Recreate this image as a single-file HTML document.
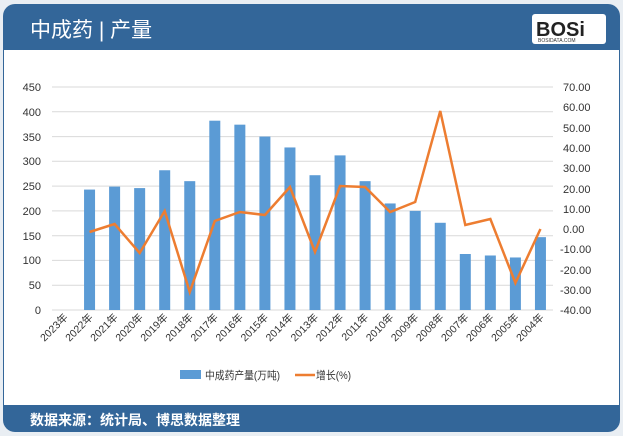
<!DOCTYPE html>
<html><head><meta charset="utf-8"><style>
html,body{margin:0;padding:0;background:#fff;}
body{width:623px;height:436px;overflow:hidden;font-family:"Liberation Sans","Noto Sans CJK SC",sans-serif;}
</style></head><body>
<svg width="623" height="436" xmlns="http://www.w3.org/2000/svg" font-family="Liberation Sans, Noto Sans CJK SC, sans-serif">
<rect x="0" y="0" width="623" height="436" fill="#e9eef3"/>
<rect x="3" y="4" width="617" height="428" rx="12" fill="#336699"/>
<rect x="4" y="50" width="615" height="355" fill="#fff"/>
<text x="30" y="37" font-size="21" fill="#fff">中成药 | 产量</text>
<rect x="532" y="14" width="74" height="30" rx="3" fill="#fff"/>
<text x="536" y="36" font-size="20" font-weight="bold" fill="#222">BOSi</text>
<text x="538" y="42" font-size="5" fill="#333">BOSIDATA.COM</text>
<text x="30" y="425" font-size="14" font-weight="bold" fill="#fff">数据来源：统计局、博思数据整理</text>
<g stroke="#d9d9d9" stroke-width="1">
<line x1="52" y1="87" x2="553" y2="87"/><line x1="52" y1="111.8" x2="553" y2="111.8"/>
<line x1="52" y1="136.6" x2="553" y2="136.6"/><line x1="52" y1="161.3" x2="553" y2="161.3"/>
<line x1="52" y1="186.1" x2="553" y2="186.1"/><line x1="52" y1="210.9" x2="553" y2="210.9"/>
<line x1="52" y1="235.7" x2="553" y2="235.7"/><line x1="52" y1="260.4" x2="553" y2="260.4"/>
<line x1="52" y1="285.2" x2="553" y2="285.2"/><line x1="52" y1="310" x2="553" y2="310"/>
</g>
<g font-size="11" fill="#333" text-anchor="end">
<text x="41" y="91">450</text><text x="41" y="116">400</text><text x="41" y="141">350</text>
<text x="41" y="165">300</text><text x="41" y="190">250</text><text x="41" y="215">200</text>
<text x="41" y="240">150</text><text x="41" y="264">100</text><text x="41" y="289">50</text><text x="41" y="314">0</text>
</g>
<g font-size="11" fill="#333">
<text x="563" y="91">70.00</text><text x="563" y="111">60.00</text><text x="563" y="132">50.00</text>
<text x="563" y="152">40.00</text><text x="563" y="172">30.00</text><text x="563" y="193">20.00</text>
<text x="563" y="213">10.00</text><text x="563" y="233">0.00</text><text x="560" y="253">-10.00</text>
<text x="560" y="274">-20.00</text><text x="560" y="294">-30.00</text><text x="560" y="314">-40.00</text>
</g>
<g fill="#5b9bd5" id="bars"></g>
<polyline id="ln" fill="none" stroke="#ed7d31" stroke-width="2.5"/>
<g id="xl" font-size="10.5" fill="#333" text-anchor="end"></g>
<rect x="180" y="370" width="21" height="9" fill="#5b9bd5"/>
<text x="205" y="379" font-size="11" fill="#333" textLength="75" lengthAdjust="spacingAndGlyphs">中成药产量(万吨)</text>
<line x1="295" y1="375" x2="315" y2="375" stroke="#ed7d31" stroke-width="2.5"/>
<text x="316" y="379" font-size="11" fill="#333" textLength="35" lengthAdjust="spacingAndGlyphs">增长(%)</text>
<script>
var yrs=[2023,2022,2021,2020,2019,2018,2017,2016,2015,2014,2013,2012,2011,2010,2009,2008,2007,2006,2005,2004];
var v=[0,243,249,246,282,260,382,374,350,328,272,312,260,215,200,176,113,110,106,147];
var g=[null,232,224,253,211,292,221,212,215,187,252,186,187,212,202,111,225,219,283,229];
var b=document.getElementById('bars'),x=document.getElementById('xl'),pts=[];
var ns='http://www.w3.org/2000/svg';
for(var i=0;i<20;i++){var cx=64.5+25.05*i;
if(v[i]){var r=document.createElementNS(ns,'rect');var h=v[i]*223/450;r.setAttribute('x',cx-5.5);r.setAttribute('y',310-h);r.setAttribute('width',11);r.setAttribute('height',h);b.appendChild(r);}
if(g[i]!==null)pts.push(cx+','+g[i]);
var t=document.createElementNS(ns,'text');t.setAttribute('transform','translate('+(cx+4)+',318) rotate(-45)');t.textContent=yrs[i]+'年';x.appendChild(t);}
document.getElementById('ln').setAttribute('points',pts.join(' '));
</script>
</svg>
</body></html>
